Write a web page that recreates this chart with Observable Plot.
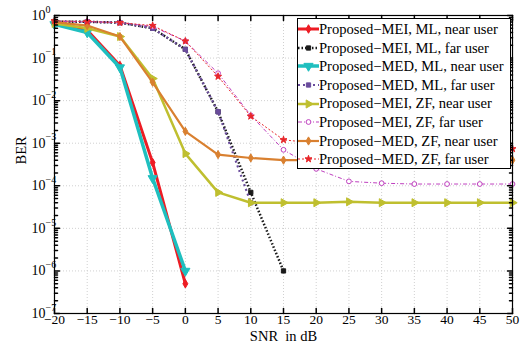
<!DOCTYPE html>
<html><head><meta charset="utf-8">
<script src="https://cdn.jsdelivr.net/npm/d3@7"></script>
<script src="https://cdn.jsdelivr.net/npm/@observablehq/plot@0.6"></script>
<style>
body{margin:0;background:#fff;}
#wrap{position:relative;width:523px;height:347px;font-family:"Liberation Serif","Times New Roman",serif;}
#legend{position:absolute;left:297px;top:18px;width:214px;height:151px;box-sizing:border-box;border:1px solid #000;background:#fff;padding-top:1px;}
.row{height:18.6px;display:flex;align-items:center;font-size:14.6px;line-height:18.6px;white-space:nowrap;color:#000;}
.row svg{flex:none;margin-right:0px;}
</style>
</head><body><div id="wrap"></div>
<script>
// ---- data ----
const snr = [-20,-15,-10,-5,0,5,10,15,20,25,30,35,40,45,50];
const seriesNames = [
  "Proposed\u2212MEI, ML, near user",
  "Proposed\u2212MEI, ML, far user",
  "Proposed\u2212MED, ML, near user",
  "Proposed\u2212MED, ML, far user",
  "Proposed\u2212MEI, ZF, near user",
  "Proposed\u2212MEI, ZF, far user",
  "Proposed\u2212MED, ZF, near user",
  "Proposed\u2212MED, ZF, far user"
];
const meiMlNear = [0.68, 0.45, 0.067, 3.5e-4, 5e-7];
const meiMlFar  = [0.72, 0.71, 0.68, 0.5, 0.16, 5.5e-3, 7e-5, 1e-6];
const medMlNear = [0.62, 0.4, 0.06, 1.5e-4, 1e-6];
const medMlFar  = [0.72, 0.71, 0.68, 0.5, 0.16, 5.5e-3, 4e-5];
const meiZfNear = [0.65, 0.5, 0.32, 0.033, 5.7e-4, 7e-5, 4e-5, 4e-5, 4e-5, 4.2e-5, 4e-5, 4e-5, 4e-5, 4e-5, 4e-5];
const meiZfFar  = [0.72, 0.72, 0.68, 0.55, 0.25, 0.044, 4.5e-3, 7e-4, 2.5e-4, 1.27e-4, 1.15e-4, 1.1e-4, 1.1e-4, 1.1e-4, 1.1e-4];
const medZfNear = [0.7, 0.58, 0.32, 0.027, 1.9e-3, 5.4e-4, 4.5e-4, 4e-4, 4e-4, 4e-4, 4e-4, 4e-4, 4e-4, 4e-4, 4e-4];
const medZfFar  = [0.75, 0.72, 0.68, 0.58, 0.25, 0.037, 4.3e-3, 1.2e-3, 1e-3, 9e-4, 8e-4, 8e-4, 7.5e-4, 7.5e-4, 7.4e-4];
const xTicks = [-20,-15,-10,-5,0,5,10,15,20,25,30,35,40,45,50];
const yExponents = [0,-1,-2,-3,-4,-5,-6,-7];

// ---- styles ----
const values = [meiMlNear, meiMlFar, medMlNear, medMlFar, meiZfNear, meiZfFar, medZfNear, medZfFar];
const styles = [
  {color:"#ed1c24", width:3,   dash:null,      symbol:"diamond",  r:2.6, rot:0,   fill:"#ed1c24"},
  {color:"#1a1a1a", width:2.5, dash:"1.5,2",   symbol:"square",   r:2.4, rot:0,   fill:"#1a1a1a"},
  {color:"#1fbfbf", width:3.5, dash:null,      symbol:"triangle", r:3.4, rot:180, fill:"#1fbfbf"},
  {color:"#6a4c9c", width:2.2, dash:"2,3",     symbol:"square",   r:2.4, rot:0,   fill:"#6a4c9c"},
  {color:"#bfbf2f", width:2.5, dash:null,      symbol:"triangle", r:3.0, rot:90,  fill:"#bfbf2f"},
  {color:"#bf40bf", width:1,   dash:"4,2,1,2", symbol:"circle",   r:2.4, rot:0,   fill:"#fff"},
  {color:"#d98030", width:2.2, dash:null,      symbol:"diamond",  r:2.5, rot:0,   fill:"#d98030"},
  {color:"#e8262a", width:1,   dash:"2,2",     symbol:"star",     r:2.2, rot:0,   fill:"#e8262a"}
];

const yTicks = yExponents.map(e => Math.pow(10, e));
const yMinor = [];
for (let e = -7; e < 0; e++) for (let m = 2; m <= 9; m++) yMinor.push(m * Math.pow(10, e));

const tickShape = {draw(ctx, l){ ctx.moveTo(0,0); ctx.lineTo(0,-l); }};

const marks = [
  Plot.gridX(xTicks, {stroke:"#d0d0d0", strokeOpacity:1, strokeDasharray:"1,2"}),
  Plot.gridY(yTicks, {stroke:"#d0d0d0", strokeOpacity:1, strokeDasharray:"1,2"}),
  Plot.axisX({ticks:xTicks, tickSize:0, tickPadding:1, label:null, fontSize:13.5,
    tickFormat:d => d < 0 ? "\u2212" + Math.abs(d) : String(d)}),
  Plot.axisY({ticks:yTicks, tickSize:0, tickPadding:9, label:null, fontSize:14, tickFormat:() => "10"}),
  Plot.text(yTicks, {y:d => d, frameAnchor:"left", dx:-9, dy:-6, textAnchor:"start", fontSize:10,
    text:(d,i) => yExponents[i] < 0 ? "\u2212" + Math.abs(yExponents[i]) : String(yExponents[i])}),
  Plot.text(["SNR  in dB"], {frameAnchor:"bottom", dy:27, text:d => d, fontSize:14.5}),
  Plot.text(["BER"], {frameAnchor:"left", dx:-33, rotate:-90, text:d => d, fontSize:14.5})
];

values.forEach((vals, i) => {
  const st = styles[i];
  const rows = vals.map((v, j) => ({x: snr[j], y: v}));
  marks.push(Plot.line(rows, {x:"x", y:"y", stroke:st.color, strokeWidth:st.width,
    strokeDasharray:st.dash, strokeLinecap: st.dash ? "butt" : "round", strokeLinejoin:"round"}));
  marks.push(Plot.dot(rows, {x:"x", y:"y", symbol:st.symbol, r:st.r, rotate:st.rot,
    fill:st.fill, stroke:st.color, strokeWidth:1}));
});

// frame and inward ticks
marks.push(
  Plot.frame({stroke:"#000", strokeWidth:1.2}),
  Plot.vector(yTicks, {y:d => d, frameAnchor:"left", rotate:90, length:5, anchor:"start", shape:tickShape, stroke:"#000"}),
  Plot.vector(yTicks, {y:d => d, frameAnchor:"right", rotate:-90, length:5, anchor:"start", shape:tickShape, stroke:"#000"}),
  Plot.vector(yMinor, {y:d => d, frameAnchor:"left", rotate:90, length:3, anchor:"start", shape:tickShape, stroke:"#000"}),
  Plot.vector(yMinor, {y:d => d, frameAnchor:"right", rotate:-90, length:3, anchor:"start", shape:tickShape, stroke:"#000"}),
  Plot.vector(xTicks, {x:d => d, frameAnchor:"bottom", rotate:0, length:5, anchor:"start", shape:tickShape, stroke:"#000"}),
  Plot.vector(xTicks, {x:d => d, frameAnchor:"top", rotate:180, length:5, anchor:"start", shape:tickShape, stroke:"#000"})
);

const chart = Plot.plot({
  width:523, height:347,
  marginLeft:54, marginRight:11, marginTop:15, marginBottom:34,
  style:{fontFamily:"'Liberation Serif','Times New Roman',serif", fontSize:"14px", background:"#fff", color:"#000", overflow:"visible"},
  x:{domain:[-20,50]},
  y:{type:"log", domain:[1e-7,1]},
  marks
});
const wrap = document.getElementById("wrap");
wrap.appendChild(chart);

// legend overlay
const legend = document.createElement("div");
legend.id = "legend";
const symMap = {diamond:d3.symbolDiamond, square:d3.symbolSquare, triangle:d3.symbolTriangle, circle:d3.symbolCircle, star:d3.symbolStar};
seriesNames.forEach((name, i) => {
  const st = styles[i];
  const row = document.createElement("div");
  row.className = "row";
  const svg = d3.create("svg").attr("width", 21).attr("height", 18);
  svg.append("line").attr("x1", 0).attr("x2", 21).attr("y1", 9).attr("y2", 9)
    .attr("stroke", st.color).attr("stroke-width", st.width)
    .attr("stroke-dasharray", st.dash);
  svg.append("path").attr("d", d3.symbol(symMap[st.symbol], st.r * st.r * Math.PI)())
    .attr("transform", `translate(10.5,9) rotate(${st.rot})`)
    .attr("fill", st.fill).attr("stroke", st.color).attr("stroke-width", 1);
  row.appendChild(svg.node());
  const span = document.createElement("span");
  span.textContent = name;
  row.appendChild(span);
  legend.appendChild(row);
});
wrap.appendChild(legend);
</script>
</body></html>
